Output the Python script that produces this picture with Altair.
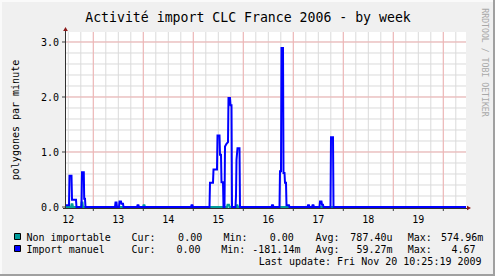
import altair as alt
import pandas as pd

MONO = "DejaVu Sans Mono"

# ---------------- data ----------------
import_day = [11.954, 12.014, 12.024, 12.064, 12.074, 12.154, 12.164, 12.264, 12.274, 12.310,
              12.318, 12.334, 12.344, 12.934, 12.944, 12.964, 12.974, 13.014, 13.024, 13.054,
              13.064, 13.094, 13.104, 13.374, 13.384, 13.404, 13.414, 14.454, 14.464, 14.484,
              14.494, 14.824, 14.834, 14.894, 14.904, 14.974, 14.984, 15.024, 15.034, 15.054,
              15.064, 15.094, 15.104, 15.124, 15.134, 15.164, 15.194, 15.204, 15.234, 15.244,
              15.264, 15.274, 15.344, 15.354, 15.364, 15.384, 15.424, 15.434, 16.064, 16.074,
              16.094, 16.104, 16.224, 16.234, 16.254, 16.264, 16.294, 16.304, 16.324, 16.334,
              16.354, 16.364, 16.414, 16.424, 16.784, 16.794, 16.814, 16.824, 16.874, 16.884,
              16.904, 16.914, 17.024, 17.034, 17.064, 17.074, 17.094, 17.104, 17.244, 17.254,
              17.294, 17.304, 19.954]
import_val = [0.03, 0.03, 0.57, 0.57, 0.13, 0.13, 0.0, 0.0, 0.63, 0.63,
              0.15, 0.15, 0.0, 0.0, 0.08, 0.08, 0.0, 0.0, 0.10, 0.10,
              0.06, 0.06, 0.0, 0.0, 0.03, 0.03, 0.0, 0.0, 0.03, 0.03,
              0.0, 0.0, 0.44, 0.44, 0.68, 0.68, 1.30, 1.30, 0.95, 0.95,
              0.45, 0.45, 0.0, 0.0, 1.10, 1.15, 1.18, 1.98, 1.98, 1.85,
              1.85, 0.0, 0.0, 0.20, 0.86, 1.07, 1.07, 0.0, 0.0, 0.03,
              0.03, 0.0, 0.0, 0.65, 0.65, 2.89, 2.89, 0.62, 0.62, 0.44,
              0.44, 0.03, 0.03, 0.0, 0.0, 0.03, 0.03, 0.0, 0.0, 0.03,
              0.03, 0.0, 0.0, 0.10, 0.10, 0.04, 0.04, 0.0, 0.0, 1.27,
              1.27, 0.0, 0.0]

nonimp_day = [11.954, 12.054, 12.064, 12.084, 12.094, 12.254, 12.264, 12.284, 12.294,
              13.494, 13.504, 13.524, 13.534, 15.174, 15.184, 15.214, 15.224,
              15.354, 15.364, 15.384, 15.394, 19.954]
nonimp_val = [0.0, 0.0, 0.05, 0.05, 0.0, 0.0, 0.08, 0.08, 0.0,
              0.0, 0.03, 0.03, 0.0, 0.0, 0.04, 0.04, 0.0,
              0.0, 0.03, 0.03, 0.0, 0.0]

x_labels = [12, 13, 14, 15, 16, 17, 18, 19]
y_labels = [0, 1, 2, 3]
x_major_grid = [12.5, 13.5, 14.5, 15.5, 16.5, 17.5, 18.5, 19.5]
x_minor_grid = [12 + 0.25 * i for i in range(32)]
y_major_grid = [1, 2, 3]
y_minor_grid = [round(0.2 * i, 1) for i in range(1, 16)]

legend_names = ["Non importable", "Import manuel"]
legend_colors = ["#009C9C", "#0000FF"]
stat_cur = ["0.00", "0.00"]
stat_min = ["0.00", "-181.14m"]
stat_avg = ["787.40u", "59.27m"]
stat_max = ["574.96m", "4.67"]

title_text = "Activité import CLC France 2006 - by week"
y_title = "polygones par minute"
watermark = "RRDTOOL / TOBI OETIKER"
last_update = "Last update: Fri Nov 20 10:25:19 2009"

# ---------------- chart ----------------
W, H = 400, 175
xs = alt.Scale(domain=[11.954, 19.954], nice=False, zero=False)
ys = alt.Scale(domain=[0, 3.1818], nice=False, zero=True)


def one():
    return pd.DataFrame({"a": [0]})


def label(s, x, y, align="left", size=10, color="black", angle=0, baseline="alphabetic"):
    return alt.Chart(pd.DataFrame({"t": [s]})).mark_text(
        align=align, baseline=baseline, font=MONO, fontSize=size, color=color, angle=angle
    ).encode(x=alt.value(x), y=alt.value(y), text="t:N")


def hrule(x1, x2, y, color, w=1):
    return alt.Chart(one()).mark_rule(color=color, strokeWidth=w).encode(
        x=alt.value(x1), x2=alt.value(x2), y=alt.value(y))


def vrule(x, y1, y2, color, w=1):
    return alt.Chart(one()).mark_rule(color=color, strokeWidth=w).encode(
        x=alt.value(x), y=alt.value(y1), y2=alt.value(y2))


layers = []

# grid
layers.append(alt.Chart(pd.DataFrame({"v": x_minor_grid})).mark_rule(color="#DADADA", strokeWidth=1).encode(
    x=alt.X("v:Q", scale=xs, axis=None), y=alt.value(0), y2=alt.value(H)))
layers.append(alt.Chart(pd.DataFrame({"v": y_minor_grid})).mark_rule(color="#DADADA", strokeWidth=1).encode(
    y=alt.Y("v:Q", scale=ys, axis=None), x=alt.value(0), x2=alt.value(W)))
layers.append(alt.Chart(pd.DataFrame({"v": x_major_grid})).mark_rule(color="#F2B3B3", strokeWidth=1).encode(
    x=alt.X("v:Q", scale=xs, axis=None), y=alt.value(0), y2=alt.value(H)))
layers.append(alt.Chart(pd.DataFrame({"v": y_major_grid})).mark_rule(color="#F2B3B3", strokeWidth=1).encode(
    y=alt.Y("v:Q", scale=ys, axis=None), x=alt.value(0), x2=alt.value(W)))

# ticks
layers.append(alt.Chart(pd.DataFrame({"v": x_major_grid})).mark_rule(color="#404040", strokeWidth=1).encode(
    x=alt.X("v:Q", scale=xs, axis=None), y=alt.value(H), y2=alt.value(H + 4)))
layers.append(alt.Chart(pd.DataFrame({"v": y_labels})).mark_rule(color="#404040", strokeWidth=1).encode(
    y=alt.Y("v:Q", scale=ys, axis=None), x=alt.value(-4), x2=alt.value(0)))

# tick labels
layers.append(alt.Chart(pd.DataFrame({"v": x_labels, "t": [str(v) for v in x_labels]})).mark_text(
    font=MONO, fontSize=10, color="black", align="center", baseline="alphabetic").encode(
    x=alt.X("v:Q", scale=xs, axis=None), y=alt.value(190.5), text="t:N"))
layers.append(alt.Chart(pd.DataFrame({"v": y_labels, "t": ["%.1f" % v for v in y_labels]})).mark_text(
    font=MONO, fontSize=10, color="black", align="right", baseline="alphabetic", dy=3.6).encode(
    y=alt.Y("v:Q", scale=ys, axis=None), x=alt.value(-7), text="t:N"))

# axes lines
layers.append(hrule(-3, W + 2, H + 1.5, "#303030"))
layers.append(vrule(-0.5, -3, H + 2, "#303030"))

df_non = pd.DataFrame({"day": nonimp_day, "val": nonimp_val})
df_imp = pd.DataFrame({"day": import_day, "val": import_val})

layers.append(alt.Chart(df_non).mark_line(color=legend_colors[0], strokeWidth=2).encode(
    x=alt.X("day:Q", scale=xs, axis=None), y=alt.Y("val:Q", scale=ys, axis=None)))
layers.append(alt.Chart(df_imp).mark_line(color=legend_colors[1], strokeWidth=2).encode(
    x=alt.X("day:Q", scale=xs, axis=None), y=alt.Y("val:Q", scale=ys, axis=None)))

# arrows
layers.append(alt.Chart(one()).mark_point(shape="triangle-up", filled=True, size=22, color="#8B1A1A", opacity=1).encode(
    x=alt.value(-0.5), y=alt.value(-3)))
layers.append(alt.Chart(one()).mark_point(shape="triangle-right", filled=True, size=22, color="#8B1A1A", opacity=1).encode(
    x=alt.value(W + 3), y=alt.value(H + 1)))

# title, axis title, watermark
layers.append(label(title_text, 182, -10.5, align="center", size=13.2))
layers.append(label(y_title, -47.2, 88, align="center", angle=270))
layers.append(label(watermark, 415.5, 30.5, align="center", size=8.2, color="#A8A8A8", angle=90))

# legend
row_y = [208.5, 220.5]
box_y = [201.5, 213.5]
min_lbl_x = [157.5, 155.2]
cur_end = [136.2, 134.5]
min_end = [227.8, 234.5]
avg_end = [326.5, 326.5]
max_end = [417.2, 409.5]
for i in range(2):
    layers.append(alt.Chart(one()).mark_rect(color=legend_colors[i], stroke="black", strokeWidth=1).encode(
        x=alt.value(-51.5), x2=alt.value(-45.5), y=alt.value(box_y[i]), y2=alt.value(box_y[i] + 6)))
    layers.append(label(legend_names[i], -39.5, row_y[i]))
    layers.append(label("Cur:", 65.5, row_y[i]))
    layers.append(label(stat_cur[i], cur_end[i], row_y[i], align="right"))
    layers.append(label("Min:", min_lbl_x[i], row_y[i]))
    layers.append(label(stat_min[i], min_end[i], row_y[i], align="right"))
    layers.append(label("Avg:", 249.5, row_y[i]))
    layers.append(label(stat_avg[i], avg_end[i], row_y[i], align="right"))
    layers.append(label("Max:", 341.8, row_y[i]))
    layers.append(label(stat_max[i], max_end[i], row_y[i], align="right"))
layers.append(label(last_update, 192.8, 232.5))

# 3D frame
layers.append(hrule(-66, 429, -31, "#FAFAFA", 2))
layers.append(vrule(-65, -32, 244, "#FAFAFA", 2))
layers.append(hrule(-66, 429, 243, "#A0A0A0", 2))
layers.append(vrule(428, -32, 244, "#A0A0A0", 2))

chart = alt.layer(*layers).properties(
    width=W, height=H,
    padding={"left": 66, "top": 32, "right": 29, "bottom": 69},
    autosize=alt.AutoSizeParams(type="none"),
    background="#F0F0F0",
).configure_view(fill="white", strokeWidth=0)

chart.save("out.html", embed_options={"renderer": "svg", "actions": False})
